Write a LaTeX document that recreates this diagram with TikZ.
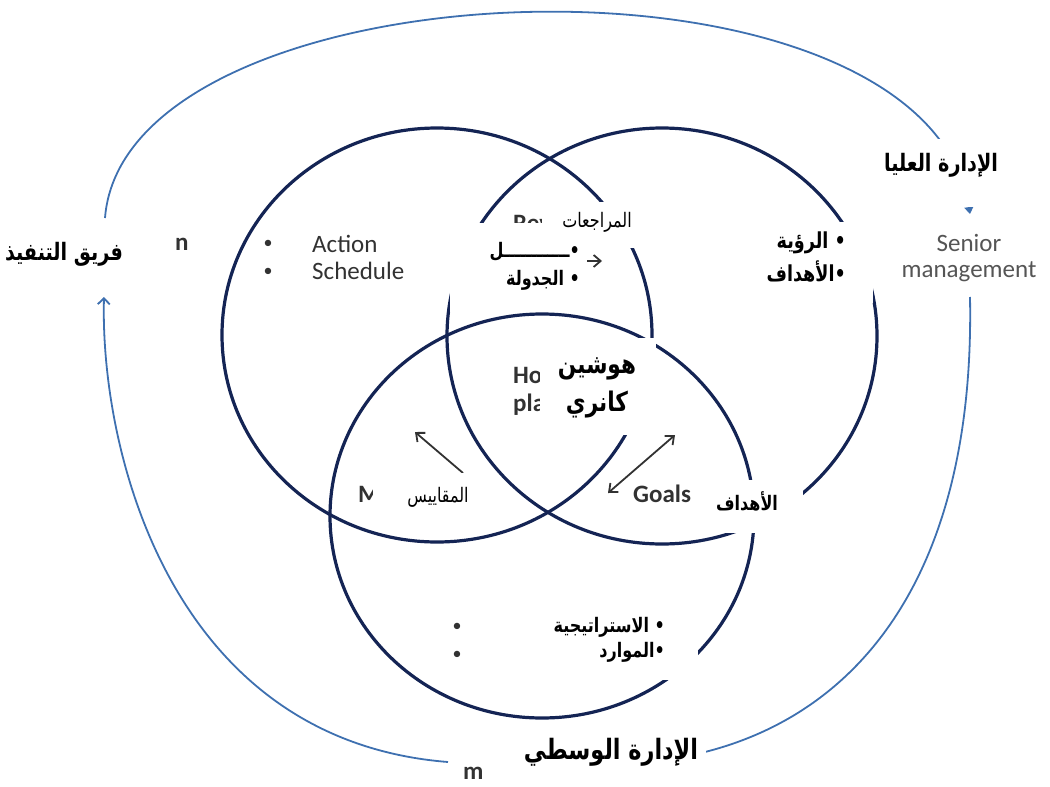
\documentclass[tikz,border=0pt]{standalone}
\usepackage{fontspec}
\setmainfont{Carlito}
\newfontfamily\arabicfont[Script=Arabic, FakeStretch=0.8]{DejaVu Sans}
\TeXXeTstate=1
\definecolor{hkNavy}{RGB}{20,36,84}
\definecolor{hkBlue}{RGB}{62,112,176}
\definecolor{hkInk}{RGB}{50,50,50}
\definecolor{hkGrey}{RGB}{85,85,85}
\usetikzlibrary{arrows.meta,positioning}

\begin{document}
\begin{tikzpicture}[x=1pt, y=-1pt,
    ring/.style={draw=hkNavy, line width=3.2pt},
    flow/.style={draw=hkBlue, line width=1.8pt},
    link/.style={draw=hkInk, line width=1.8pt},
    mask/.style={fill=white},
    en/.style={font=\bfseries\fontsize{25}{30}\selectfont, text=hkInk,
               anchor=base west, inner sep=0pt},
    enlite/.style={font=\fontsize{25}{30}\selectfont, text=hkInk,
               anchor=base west, inner sep=0pt},
    dot/.style={font=\fontsize{18}{18}\selectfont, text=hkInk, inner sep=0pt},
    arb/.style={font=\arabicfont\bfseries\fontsize{#1}{#1}\selectfont, inner sep=0pt},
    arr/.style={font=\arabicfont\fontsize{#1}{#1}\selectfont, inner sep=0pt}
  ]
  \useasboundingbox (0,0) rectangle (1050,787);

  % the three circles
  \draw[ring] (437,335) ellipse [x radius=215pt, y radius=207pt];
  \draw[ring] (662,336) ellipse [x radius=215pt, y radius=208pt];
  \draw[ring] (542,516) ellipse [x radius=212pt, y radius=202pt];

  % outer loop
  \coordinate (teamTop)      at (105,218);
  \coordinate (teamBottom)   at (104,297);
  \coordinate (seniorTop)    at (970,214);
  \coordinate (seniorBottom) at (970,297);
  \coordinate (middleLeft)   at (448,762);
  \coordinate (middleRight)  at (705,752);
  \draw[flow, -{Triangle[width=9pt,length=7pt]}]
    (teamTop) .. controls (125,-40) and (925,-70) .. (seniorTop);
  \draw[flow, -{Straight Barb[width=12pt,length=6pt]}]
    (middleLeft) .. controls (170,740) and (100,450) .. (teamBottom);
  \draw[flow] (seniorBottom) .. controls (975,560) and (870,710) .. (middleRight);

  % inner arrows
  \coordinate (revTail)  at (565,261);
  \coordinate (revHead)  at (602,261);
  \coordinate (measTail) at (463,473);
  \coordinate (measHead) at (415,432);
  \coordinate (goalLow)  at (608,493);
  \coordinate (goalHigh) at (675,435);
  \draw[link, -{Straight Barb[width=12pt,length=7pt]}] (revTail) -- (revHead);
  \draw[link, -{Straight Barb[width=12pt,length=7pt]}] (measTail) -- (measHead);
  \draw[link, {Straight Barb[width=12pt,length=7pt]}-{Straight Barb[width=12pt,length=7pt]}]
    (goalLow) -- (goalHigh);

  % english labels
  \node[en] (teamEn) at (175,250) {n};
  \node[dot] (dotA) at (268,244) {•};
  \node[dot] (dotB) at (268,272) {•};
  \node[enlite] (action)   at (312,252) {Action};
  \node[enlite] (schedule) at (312,279) {Schedule};
  \node[en] (review) at (513,231) {Rev};
  \node[en] (hoshin) at (513,383) {Ho};
  \node[en] (plan)   at (513,411) {pla};
  \node[en] (meas)   at (358,502) {M};
  \node[en] (goals)  at (633,502) {Goals};
  \node[enlite, text=hkGrey, anchor=base] (senior) at (969,251) {Senior};
  \node[enlite, text=hkGrey, anchor=base] (mgmt)   at (969,277) {management};
  \node[dot] (dotC) at (457,627) {•};
  \node[dot] (dotD) at (457,655) {•};
  \node[en] (middleEn) at (463,779) {m};

  % white patches
  \fill[mask] (0,222)   rectangle (170,290);
  \fill[mask] (450,223) rectangle (587,312);
  \fill[mask] (542,202) rectangle (640,248);
  \fill[mask] (745,222) rectangle (873,303);
  \fill[mask] (860,139) rectangle (1040,207);
  \fill[mask] (540,338) rectangle (656,435);
  \fill[mask] (373,473) rectangle (483,517);
  \fill[mask] (693,480) rectangle (803,533);
  \fill[mask] (530,603) rectangle (698,680);
  \fill[mask] (488,728) rectangle (706,787);

  % arabic labels
  \node[arb=24] (team) at (64,254) {\beginR فريق التنفيذ\endR};
  \node[arb=20, anchor=east] (workAr)  at (580,252) {\beginR •ــــــــــــل\endR};
  \node[arb=20, anchor=east] (schedAr) at (580,280) {\beginR • الجدولة\endR};
  \node[arr=20] (reviewAr) at (597,222) {\beginR المراجعات\endR};
  \node[arb=22, anchor=east] (visionAr) at (846,243) {\beginR • الرؤية\endR};
  \node[arb=22, anchor=east] (aimsAr)   at (846,271) {\beginR •الأهداف\endR};
  \node[arb=24] (senAr) at (941,165) {\beginR الإدارة العليا\endR};
  \node[arb=27] (hoshinAr) at (597,369) {\beginR هوشين\endR};
  \node[arb=27] (kanriAr)  at (597,405) {\beginR كانري\endR};
  \node[arr=20] (measAr)  at (438,497) {\beginR المقاييس\endR};
  \node[arb=20] (goalsAr) at (747,501) {\beginR الأهداف\endR};
  \node[arb=20, anchor=east] (stratAr) at (665,627) {\beginR • الاستراتيجية\endR};
  \node[arb=20, anchor=east] (resAr)   at (665,652) {\beginR •الموارد\endR};
  \node[arb=28] (midAr) at (611,752) {\beginR الإدارة الوسطي\endR};
\end{tikzpicture}
\end{document}
